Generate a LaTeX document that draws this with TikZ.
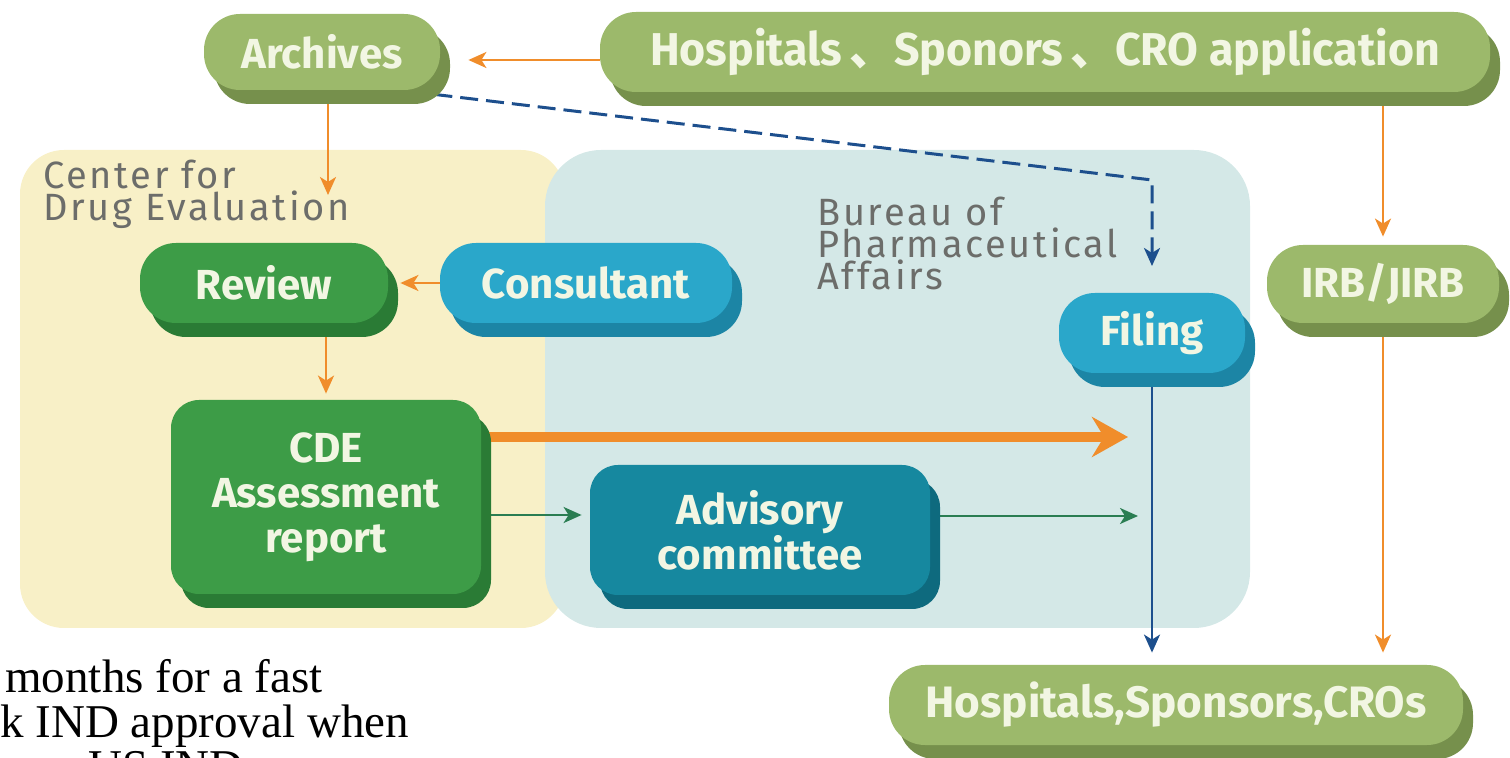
\documentclass[tikz,border=0pt]{standalone}
\usepackage{fontspec}
\setmainfont{Liberation Serif}
\setsansfont{Fira Sans}
\newfontfamily\cjk{Noto Sans CJK SC}
\newfontfamily\lblfont[LetterSpace=7]{Fira Sans}
\usepackage{graphicx}
\usepackage{tikz}
\usetikzlibrary{positioning}
\usetikzlibrary{arrows.meta,shadows}
\pgfdeclarelayer{regionlayer}
\pgfdeclarelayer{edgelayer}
\pgfsetlayers{regionlayer,edgelayer,main}
\definecolor{OliveG}{HTML}{9CB96B}
\definecolor{OliveD}{HTML}{76904C}
\definecolor{LeafG}{HTML}{3D9C47}
\definecolor{LeafD}{HTML}{2A7B35}
\definecolor{SkyB}{HTML}{2AA7CA}
\definecolor{SkyD}{HTML}{1C85A5}
\definecolor{TealB}{HTML}{16889F}
\definecolor{TealD}{HTML}{0E6A7E}
\definecolor{Cream}{HTML}{F2F6E3}
\definecolor{CdeBg}{HTML}{F8F0C7}
\definecolor{BpaBg}{HTML}{D4E8E7}
\definecolor{Orng}{HTML}{F08D2B}
\definecolor{DkGrn}{HTML}{2A7D52}
\definecolor{Navy}{HTML}{1D4F8D}
\definecolor{LblGray}{HTML}{6C6D6A}
\tikzstyle{pill}=[rectangle,rounded corners=18pt,inner sep=0pt,text=Cream,align=center,
    font=\sffamily\bfseries\fontsize{21}{22.5}\selectfont]
\tikzstyle{og}=[pill,fill=OliveG,general shadow={fill=OliveD,shadow xshift=5pt,shadow yshift=-7pt}]
\tikzstyle{gr}=[pill,fill=LeafG,general shadow={fill=LeafD,shadow xshift=5pt,shadow yshift=-7pt}]
\tikzstyle{bl}=[pill,fill=SkyB,general shadow={fill=SkyD,shadow xshift=5pt,shadow yshift=-7pt}]
\tikzstyle{tl}=[pill,fill=TealB,general shadow={fill=TealD,shadow xshift=5pt,shadow yshift=-7pt}]
\tikzstyle{reg}=[anchor=north west,align=left,text=LblGray,inner sep=0pt,
    font=\lblfont\fontsize{19}{16}\selectfont]
\tikzstyle{note}=[anchor=base west,inner sep=0pt,font=\fontsize{23.5}{22.5}\selectfont]
\tikzstyle{oa}=[Orng,line width=1.2pt]
\tikzstyle{ga}=[DkGrn,line width=1.2pt]
\tikzstyle{ba}=[Navy,line width=1.2pt]

\begin{document}
\begin{tikzpicture}[x=0.5pt,y=-0.5pt,->,>={Stealth[length=9pt,width=8pt,inset=2.5pt]},
                    shorten >=1pt,node distance=161pt]
  \useasboundingbox (0,0) rectangle (1510,758);

  \begin{pgfonlayer}{regionlayer}
    \fill[CdeBg,rounded corners=22pt] (20,150) rectangle (565,628);
    \fill[BpaBg,rounded corners=28pt] (545,150) rectangle (1250,628);
  \end{pgfonlayer}

  \node[reg] (cdelbl) at (43,160) {Center for\\Drug Evaluation};
  \node[reg] (bpalbl) at (817,197) {Bureau of\\Pharmaceutical\\Affairs};

  \node[og,minimum width=118pt,minimum height=38pt] (archives) at (322,52) {Archives};
  \node[og,minimum width=445pt,minimum height=40pt,font=\sffamily\bfseries\fontsize{23}{24}\selectfont]
      (apply) at (1045,52) {\scalebox{.97}[1]{Hospitals\,{\cjk 、}Sponors\,{\cjk 、}CRO application}};
  \node[gr,minimum width=124pt,minimum height=40pt] (review) at (264,283) {Review};
  \node[bl,minimum width=146pt,minimum height=40pt,right of=review] (consultant) {Consultant};
  \node[gr,rounded corners=14pt,minimum width=155pt,minimum height=97pt] (cde) at (326,497)
      {CDE\\Assessment\\report};
  \node[tl,rounded corners=14pt,minimum width=170pt,minimum height=65pt] (advisory) at (760,530)
      {Advisory\\committee};
  \node[bl,minimum width=93pt,minimum height=40pt] (filing) at (1152,333) {Filing};
  \node[og,minimum width=116pt,minimum height=39pt] (irb) at (1383,284) {IRB/JIRB};
  \node[og,minimum width=287pt,minimum height=40pt,font=\sffamily\bfseries\fontsize{22}{24}\selectfont]
      (sponsors) at (1176,705) {Hospitals,Sponsors,CROs};

  \coordinate (cdein) at (328,197);
  \coordinate (bend) at (1152,180);
  \coordinate (filingin) at (1152,268);
  \coordinate (fastend) at (1130,437);
  \coordinate (advend) at (1140,516);

  \begin{pgfonlayer}{edgelayer}
    \path ([yshift=-4pt]apply.west) edge[oa] ([yshift=-4pt,xshift=13pt]archives.east)
          (archives.south -| cdein) edge[oa] (cdein)
          (consultant) edge[oa,shorten >=6pt] (review)
          (review.south -| cde.north) edge[oa,shorten >=3pt] (cde.north)
          ([yshift=30pt]cde.east) edge[oa,line width=5pt,-{Stealth[length=18pt,width=20pt,inset=6pt]}] (fastend)
          ([yshift=-9pt]cde.east) edge[ga,shorten >=4pt] ([yshift=-9pt]cde.east -| advisory.west)
          (advisory.east |- advend) edge[ga] (advend)
          (filing.south) edge[ba,shorten >=6pt] (filing.south |- sponsors.north)
          (apply.south -| irb.north) edge[oa,shorten >=4pt] (irb.north)
          (irb.south) edge[oa,shorten >=6pt] (irb.south |- sponsors.north);
    \draw[ba,line width=1.5pt,dash pattern=on 9pt off 4pt]
        ([xshift=-3pt,yshift=-2pt]archives.south east) -- (bend) -- (filingin);
  \end{pgfonlayer}

  \node[note] (note1) at (5,692) {months for a fast};
  \node[note] (note2) at (0,737) {k IND approval when};
  \node[note] (note3) at (88,782) {US IND};
\end{tikzpicture}
\end{document}
